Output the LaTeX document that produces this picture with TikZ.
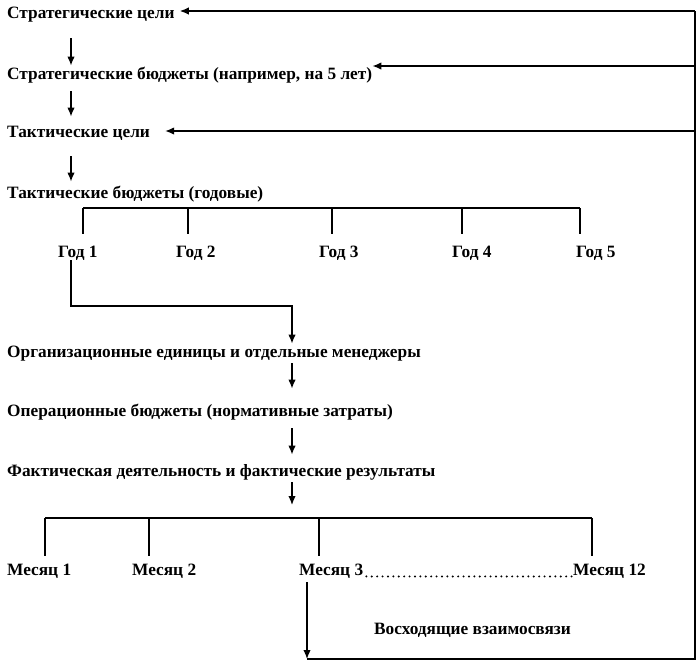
\documentclass[tikz,border=0pt]{standalone}
\usepackage{fontspec}
\setmainfont{Liberation Serif}
\usetikzlibrary{arrows.meta}
\tikzset{
  txt/.style={anchor=west, inner sep=0pt, font=\bfseries\fontsize{17.3}{20}\selectfont, text height=13.5pt, text depth=1pt},
  ln/.style={line width=1.4pt},
  arr/.style={line width=1.4pt, -{Latex[length=9pt,width=7.5pt]}}
}
\begin{document}
\begin{tikzpicture}[x=1pt,y=-1pt]
\useasboundingbox (0,0) rectangle (700,665);
% text nodes
\node[txt] (sg) at (7,12) {Стратегические цели};
\node[txt] (sb) at (7,73) {Стратегические бюджеты (например, на 5 лет)};
\node[txt] (tg) at (7,131) {Тактические цели};
\node[txt] (tb) at (7,192) {Тактические бюджеты (годовые)};
\node[txt] (y1) at (58,251) {Год 1};
\node[txt] (y2) at (176,251) {Год 2};
\node[txt] (y3) at (319,251) {Год 3};
\node[txt] (y4) at (452,251) {Год 4};
\node[txt] (y5) at (576,251) {Год 5};
\node[txt] (og) at (7,351) {Организационные единицы и отдельные менеджеры};
\node[txt] (ob) at (7,410) {Операционные бюджеты (нормативные затраты)};
\node[txt] (fa) at (7,470) {Фактическая деятельность и фактические результаты};
\node[txt] (m1) at (7,569) {Месяц 1};
\node[txt] (m2) at (132,569) {Месяц 2};
\node[txt] (m3) at (299,569) {Месяц 3};
\node[txt, anchor=east] (m12) at (646,569) {Месяц 12};
\node[txt] (vz) at (374,628) {Восходящие взаимосвязи};
% helper coordinates
\coordinate (ax) at (71,0);
\coordinate (ox) at (292,0);
\coordinate (r1) at (695,11);
\coordinate (r2) at (695,66);
\coordinate (r3) at (695,131);
\coordinate (br) at (695,659);
\coordinate (bl) at (307,659);
\coordinate (h1) at (71,306);
\coordinate (b1) at (83,208);
\coordinate (b2) at (188,208);
\coordinate (b3) at (332,208);
\coordinate (b4) at (462,208);
\coordinate (b5) at (580,208);
\coordinate (c1) at (45,518);
\coordinate (c2) at (149,518);
\coordinate (c3) at (319,518);
\coordinate (c4) at (592,518);
% dots between Месяц 3 and Месяц 12
\draw[line width=2.2pt, line cap=round, dash pattern=on 0pt off 5.4pt]
  ([xshift=3pt,yshift=-1.2pt]m3.base east) -- ([xshift=-1pt,yshift=-1.2pt]m12.base west);
% main vertical chain
\draw[arr, shorten <=19pt] (sg.south -| ax) -- (sb.north -| ax);
\draw[arr, shorten <=11pt, shorten >=7pt] (sb.south -| ax) -- (tg.north -| ax);
\draw[arr, shorten <=18pt, shorten >=3pt] (tg.south -| ax) -- (tb.north -| ax);
% years bracket
\draw[ln] (b1) -- (b5);
\draw[ln, shorten >=10pt] (b1) -- (b1 |- y1.north);
\draw[ln, shorten >=10pt] (b2) -- (b2 |- y2.north);
\draw[ln, shorten >=10pt] (b3) -- (b3 |- y3.north);
\draw[ln, shorten >=10pt] (b4) -- (b4 |- y4.north);
\draw[ln, shorten >=10pt] (b5) -- (b5 |- y5.north);
% year 1 to org units
\draw[arr, shorten <=2pt] (y1.south -| h1) -- (h1) -| (og.north -| ox);
\draw[arr, shorten <=5pt, shorten >=14pt] (og.south -| ox) -- (ob.north -| ox);
\draw[arr, shorten <=11pt, shorten >=8pt] (ob.south -| ox) -- (fa.north -| ox);
\draw[arr, shorten <=5pt, shorten >=13pt] (fa.south -| ox) -- (ox |- c1);
% months bracket
\draw[ln] (c1) -- (c4);
\draw[ln, shorten >=6pt] (c1) -- (c1 |- m1.north);
\draw[ln, shorten >=6pt] (c2) -- (c2 |- m2.north);
\draw[ln, shorten >=6pt] (c3) -- (c3 |- m3.north);
\draw[ln, shorten >=6pt] (c4) -- (c4 |- m12.north);
% feedback loop
\draw[arr, shorten <=6pt] (m3.south -| bl) -- (bl);
\draw[ln] (bl) -- (br) -- (r1);
\draw[arr, shorten >=5pt] (r1) -- (r1 -| sg.east);
\draw[arr] (r2) -- (r2 -| sb.east);
\draw[arr, shorten >=15pt] (r3) -- (tg.east);
\end{tikzpicture}
\end{document}
